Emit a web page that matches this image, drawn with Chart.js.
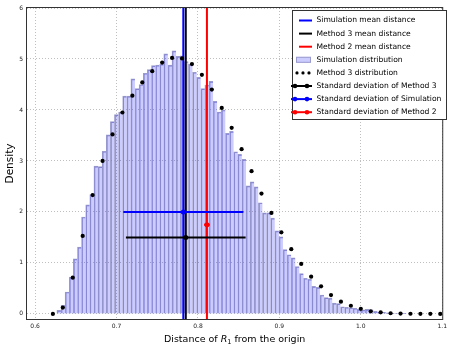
<!DOCTYPE html>
<html><head><meta charset="utf-8">
<script src="https://cdn.jsdelivr.net/npm/chart.js@4.4.1/dist/chart.umd.min.js"></script>
<style>html,body{margin:0;padding:0;background:#fff}</style>
</head><body>
<canvas id="c" width="451" height="345" style="width:451px;height:345px;display:block"></canvas>
<script>
// ---- data ----
const binCenters = [0.6292,0.6343,0.6393,0.6444,0.6494,0.6545,0.6595,0.6646,0.6696,0.6747,
  0.6797,0.6848,0.6898,0.6949,0.6999,0.7050,0.7100,0.7151,0.7201,0.7252,
  0.7302,0.7353,0.7403,0.7454,0.7504,0.7555,0.7605,0.7656,0.7706,0.7757,
  0.7807,0.7858,0.7908,0.7959,0.8009,0.8060,0.8110,0.8161,0.8211,0.8262,
  0.8312,0.8363,0.8413,0.8464,0.8514,0.8565,0.8615,0.8666,0.8716,0.8767,
  0.8817,0.8868,0.8918,0.8969,0.9019,0.9070,0.9120,0.9171,0.9221,0.9272,
  0.9322,0.9373,0.9423,0.9474,0.9524,0.9575,0.9625,0.9676,0.9726,0.9777,
  0.9827,0.9878,0.9928,0.9979,1.0029,1.0080,1.0130,1.0181,1.0231,1.0282,
  1.0332,1.0383,1.0433,1.0484,1.0534];
const simDensity = [0.07,0.17,0.43,0.72,1.08,1.31,1.90,2.14,2.34,2.90,
  2.89,3.19,3.51,3.77,3.91,3.96,4.27,4.27,4.61,4.42,
  4.50,4.72,4.79,4.87,4.88,4.90,5.10,4.88,5.16,5.05,
  5.06,4.95,4.90,4.74,4.64,4.42,4.49,4.56,4.17,3.96,
  4.00,3.54,3.58,3.18,3.13,3.03,2.51,2.59,2.49,2.18,
  1.98,1.98,1.88,1.63,1.51,1.26,1.16,1.10,0.93,0.79,
  0.70,0.68,0.54,0.52,0.37,0.32,0.31,0.21,0.20,0.14,
  0.13,0.12,0.11,0.09,0.08,0.09,0.08,0.05,0.03,0.03,
  0.02,0.01,0.01,0.01,0.005];
const m3X = [0.6218,0.6340,0.6462,0.6584,0.6706,0.6828,0.6950,0.7072,0.7194,0.7316,
  0.7438,0.7560,0.7682,0.7804,0.7926,0.8048,0.8170,0.8292,0.8414,0.8536,
  0.8658,0.8780,0.8902,0.9024,0.9146,0.9268,0.9390,0.9512,0.9634,0.9756,
  0.9878,1.0000,1.0122,1.0244,1.0366,1.0488,1.0610,1.0732,1.0854,1.0976];
const m3Density = [0.0,0.125,0.71,1.53,2.33,3.0,3.52,3.95,4.28,4.54,
  4.76,4.93,5.02,5.01,4.90,4.69,4.40,4.04,3.65,3.23,
  2.80,2.36,1.98,1.60,1.27,0.98,0.73,0.54,0.37,0.24,
  0.16,0.10,0.05,0.03,0.013,0.006,0.003,0.002,0.001,0.0];
const meanNames = ["Simulation mean distance","Method 3 mean distance","Method 2 mean distance"];
const meanValues = [0.782, 0.785, 0.811];
const sdNames = ["Standard deviation of Method 3","Standard deviation of Simulation","Standard deviation of Method 2"];
const sdCenters = [0.785, 0.782, 0.811];
const sdHalfWidths = [0.0735, 0.0737, 0.0035];
const sdLevels = [1.5, 2.0, 1.75];
const xTicks = [0.6,0.7,0.8,0.9,1.0,1.1];
const yTicks = [0,1,2,3,4,5,6];
const xRange = [0.59, 1.1];
const yRange = [-0.1, 6];
const xTitle = ["Distance of ", "R", "1", " from the origin"];
const yTitle = "Density";

// ---- styles ----
const FONT = '"DejaVu Sans", sans-serif';
const BLUE = 'rgb(0,0,255)', RED = 'rgb(255,0,0)', BLACK = 'rgb(0,0,0)';
const BAR_FILL = 'rgba(0,0,255,0.2)', BAR_EDGE = 'rgb(155,155,205)';
const GRID = 'rgba(0,0,0,0.25)';
const meanColors = [BLUE, BLACK, RED];
const sdColors = [BLACK, BLUE, RED];

const datasets = [];
meanValues.forEach((v,i)=>{
  datasets.push({type:'line', label:meanNames[i], data:[{x:v,y:yRange[0]},{x:v,y:yRange[1]}],
    borderColor:meanColors[i], borderWidth:2, pointRadius:0, fill:false, order:2});
});
datasets.push({type:'bar', label:'Simulation distribution',
  data: binCenters.map((x,i)=>({x:x, y:simDensity[i]})),
  backgroundColor:BAR_FILL, borderColor:BAR_EDGE,
  borderWidth:{left:1,top:1,right:0,bottom:0}, borderSkipped:false,
  barPercentage:1, categoryPercentage:1, order:10});
datasets.push({type:'line', label:'Method 3 distribution',
  data: m3X.map((x,i)=>({x:x, y:m3Density[i]})), showLine:false,
  pointRadius:2.1, pointBackgroundColor:BLACK, pointBorderWidth:0, borderColor:BLACK, order:1});
sdCenters.forEach((c,i)=>{
  datasets.push({type:'line', label:sdNames[i],
    data:[{x:c-sdHalfWidths[i],y:sdLevels[i]},{x:c,y:sdLevels[i]},{x:c+sdHalfWidths[i],y:sdLevels[i]}],
    borderColor:sdColors[i], borderWidth:2, pointRadius:[0,2.5,0],
    pointBackgroundColor:sdColors[i], pointBorderWidth:0, fill:false, order:0});
});

const legendItems = [
  {kind:'line', color:BLUE, text:meanNames[0]},
  {kind:'line', color:BLACK, text:meanNames[1]},
  {kind:'line', color:RED, text:meanNames[2]},
  {kind:'patch', text:'Simulation distribution'},
  {kind:'dots', color:BLACK, text:'Method 3 distribution'},
  {kind:'err', color:BLACK, text:sdNames[0]},
  {kind:'err', color:BLUE, text:sdNames[1]},
  {kind:'err', color:RED, text:sdNames[2]},
];

const decor = {
  id:'decor',
  afterDraw(chart){
    const ctx = chart.ctx, a = chart.chartArea;
    ctx.save();
    // frame
    ctx.strokeStyle = '#333'; ctx.lineWidth = 1;
    ctx.strokeRect(a.left-0.5, a.top-0.5, a.right-a.left+1, a.bottom-a.top+1);
    // legend
    const lx = 292, ly = 10, lw = 154, lh = 109;
    ctx.fillStyle = '#fff'; ctx.fillRect(lx, ly, lw, lh);
    ctx.strokeStyle = '#333'; ctx.strokeRect(lx+0.5, ly+0.5, lw, lh);
    ctx.font = '7.6px ' + FONT; ctx.textBaseline = 'middle'; ctx.textAlign = 'left';
    legendItems.forEach((it,i)=>{
      const y = 20.5 + i*13.1;
      if (it.kind==='line'){
        ctx.strokeStyle = it.color; ctx.lineWidth = 2;
        ctx.beginPath(); ctx.moveTo(299,y); ctx.lineTo(312,y); ctx.stroke();
      } else if (it.kind==='patch'){
        ctx.fillStyle = BAR_FILL; ctx.fillRect(296, y-3, 15, 6);
        ctx.strokeStyle = BAR_EDGE; ctx.lineWidth = 1; ctx.strokeRect(296.5, y-2.5, 14, 5);
      } else if (it.kind==='dots'){
        ctx.fillStyle = it.color;
        [297,303,309].forEach(px=>{ctx.beginPath(); ctx.arc(px,y,1.6,0,Math.PI*2); ctx.fill();});
      } else {
        ctx.strokeStyle = it.color; ctx.lineWidth = 2;
        ctx.beginPath(); ctx.moveTo(291,y); ctx.lineTo(312,y); ctx.stroke();
        ctx.fillStyle = it.color;
        [295,307].forEach(px=>{ctx.beginPath(); ctx.arc(px,y,2.3,0,Math.PI*2); ctx.fill();});
      }
      ctx.fillStyle = '#000';
      ctx.fillText(it.text, 316.5, y);
    });
    // x title with math italic R and subscript 1
    const fs = 9.5, cx = (a.left+a.right)/2, by = 342;
    const fN = fs+'px '+FONT, fI = 'italic '+fs+'px '+FONT, fS = (fs*0.7)+'px '+FONT;
    ctx.textBaseline = 'alphabetic';
    ctx.font = fN; const w0 = ctx.measureText(xTitle[0]).width, w3 = ctx.measureText(xTitle[3]).width;
    ctx.font = fI; const w1 = ctx.measureText(xTitle[1]).width;
    ctx.font = fS; const w2 = ctx.measureText(xTitle[2]).width;
    let x = cx - (w0+w1+w2+w3)/2;
    ctx.fillStyle = '#000';
    ctx.font = fN; ctx.fillText(xTitle[0], x, by); x += w0;
    ctx.font = fI; ctx.fillText(xTitle[1], x, by); x += w1;
    ctx.font = fS; ctx.fillText(xTitle[2], x, by+2); x += w2;
    ctx.font = fN; ctx.fillText(xTitle[3], x, by);
    // y title
    ctx.translate(10.5, (a.top+a.bottom)/2); ctx.rotate(-Math.PI/2);
    ctx.font = '10.5px ' + FONT; ctx.textAlign = 'center'; ctx.textBaseline = 'middle';
    ctx.fillText(yTitle, 0, 0);
    ctx.restore();
  }
};

new Chart(document.getElementById('c'), {
  type:'bar',
  data:{datasets},
  options:{
    responsive:false, animation:false, devicePixelRatio:1,
    layout:{padding:{top:8,right:2,left:0,bottom:0}},
    plugins:{legend:{display:false}, tooltip:{enabled:false}, title:{display:false}},
    scales:{
      x:{type:'linear', min:xRange[0], max:xRange[1], offset:false,
        afterBuildTicks:s=>{s.ticks = xTicks.map(v=>({value:v}));},
        afterFit:s=>{s.height = 26;},
        grid:{color:GRID, lineWidth:1, drawTicks:false, offset:false},
        border:{display:false, dash:[1,2]},
        ticks:{font:{family:FONT,size:6}, color:'#222', padding:4, maxRotation:0,
          callback:v=>Number(v).toFixed(1)}},
      y:{type:'linear', min:yRange[0], max:yRange[1],
        afterBuildTicks:s=>{s.ticks = yTicks.map(v=>({value:v}));},
        afterFit:s=>{s.width = 27;},
        grid:{color:GRID, lineWidth:1, drawTicks:false},
        border:{display:false, dash:[1,2]},
        ticks:{font:{family:FONT,size:6}, color:'#222', padding:4,
          callback:v=>String(v)}}
    }
  },
  plugins:[decor]
});
</script>
</body></html>
